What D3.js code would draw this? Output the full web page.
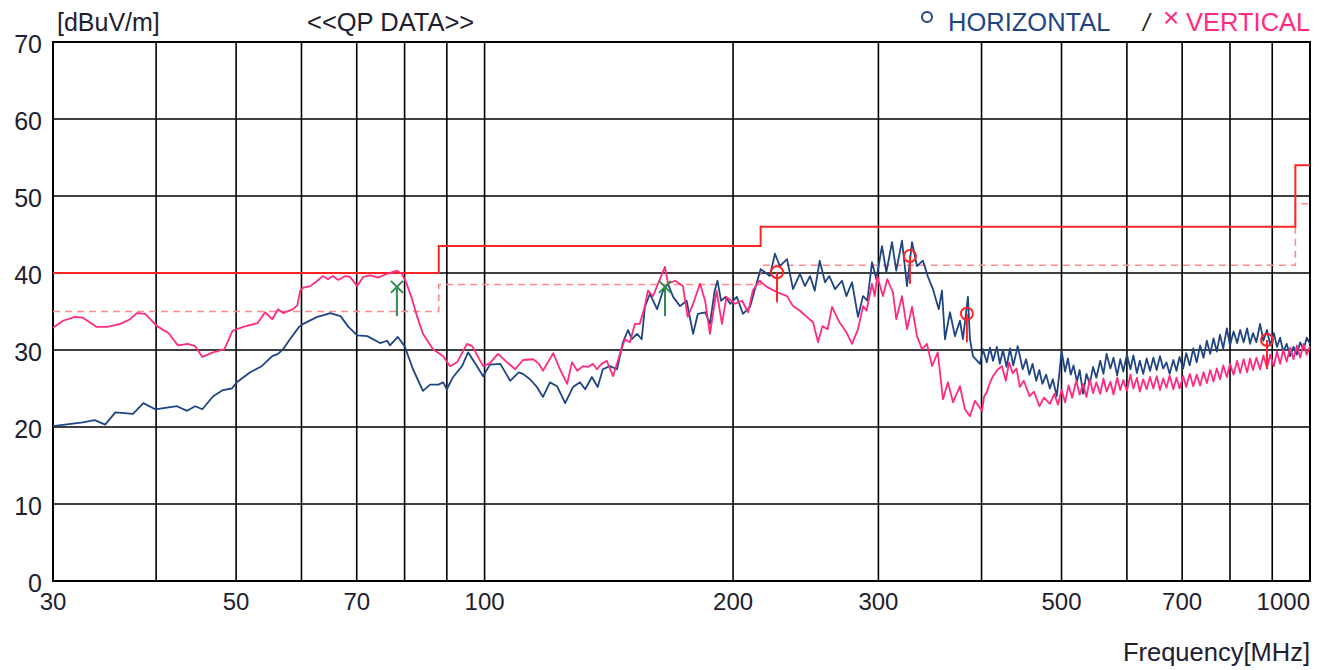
<!DOCTYPE html>
<html>
<head>
<meta charset="utf-8">
<script src="https://cdn.jsdelivr.net/npm/d3@7"></script>
<style>
	body { margin: 0; background: #ffffff; }
	text { font-family: 'Liberation Sans', Arial, sans-serif; }
</style>
</head>
<body>
<div id="chart"></div>
<script>
// Axis ticks
const freqLabels = [30, 50, 70, 100, 200, 300, 500, 700, 1000];
const freqGrid = [30, 40, 50, 60, 70, 80, 90, 100, 200, 300, 400, 500, 600, 700, 800, 900, 1000];
const levelTicks = [0, 10, 20, 30, 40, 50, 60, 70];

// Limit lines (step after each frequency)
const limitFreq = [30, 88, 216, 960, 1000];
const limitLevel = [40, 43.5, 46, 54, 54];
const marginLevel = [35, 38.5, 41, 49, 49];

// HORIZONTAL trace [MHz, dBuV/m]
const horizontal = [
	[30, 20.1], [32.6, 20.6], [33.7, 20.9], [34.7, 20.3], [35.7, 21.9], [37.5, 21.7], [38.6, 23.1], [39.9, 22.3],
	[42.4, 22.7], [43.6, 22.1], [44.6, 22.7], [45.5, 22.3], [46.9, 24.0], [48.2, 24.8], [49.4, 25.0], [50.1, 25.8],
	[52.0, 27.1], [53.7, 27.9], [55.3, 29.2], [56.2, 29.5], [57.0, 30.1], [58.1, 31.4], [59.6, 33.0], [60.3, 33.4],
	[62.7, 34.3], [63.7, 34.5], [65.0, 34.8], [66.9, 34.4], [68.4, 33.0], [70.1, 31.9], [72.1, 31.8], [74.7, 30.9],
	[76.2, 31.2], [76.8, 30.6], [78.5, 31.7], [80.0, 30.5], [81.9, 27.5], [84.2, 24.7], [85.9, 25.5], [87.9, 25.5],
	[89.1, 25.8], [90.0, 24.9], [91.6, 26.5], [93.9, 27.9], [95.5, 29.7], [97.9, 27.9], [99.6, 26.6], [101.5, 28.1],
	[104.5, 28.2], [107.4, 26.0], [110.0, 27.1], [111.3, 26.9], [113.5, 26.2], [115.7, 25.2], [117.7, 23.9], [120.0, 25.8],
	[122.4, 25.3], [125.2, 23.1], [128.0, 25.2], [130.5, 25.8], [132.4, 24.9], [134.9, 26.5], [137.1, 25.2], [139.1, 27.5],
	[141.8, 27.9], [144.7, 27.5], [147.1, 31.0], [149.2, 32.6], [150.8, 31.4], [153.0, 32.1], [155.0, 31.4], [156.4, 35.6],
	[158.6, 37.3], [161.8, 35.3], [164.5, 37.7], [166.8, 38.6], [169.2, 36.9], [172.5, 35.7], [175.7, 36.4], [178.9, 32.1],
	[181.3, 34.7], [185.0, 34.9], [187.5, 33.4], [190.0, 37.7], [191.5, 39.0], [193.4, 36.4], [195.9, 36.9], [198.4, 36.0],
	[202.1, 36.9], [205.6, 34.7], [209.7, 35.6], [213.5, 38.6], [216.0, 40.5], [221.6, 39.6], [224.8, 42.5], [227.9, 40.9],
	[232.5, 41.8], [236.4, 37.9], [241.0, 39.9], [244.4, 38.3], [247.9, 39.6], [251.2, 37.7], [254.7, 41.6], [258.5, 38.8],
	[261.6, 39.6], [265.8, 37.9], [271.0, 39.0], [274.4, 37.0], [278.7, 38.8], [283.4, 34.3], [287.4, 37.0], [290.9, 36.4],
	[294.7, 41.4], [298.3, 39.2], [303.0, 43.5], [306.7, 40.1], [311.6, 44.0], [315.3, 40.3], [320.4, 44.2], [324.9, 38.3],
	[329.5, 44.0], [334.1, 40.9], [339.7, 41.6], [344.5, 39.5], [349.3, 37.9], [355.0, 35.3], [358.2, 37.7], [361.2, 31.4],
	[366.3, 34.9], [371.4, 31.8], [376.6, 33.8], [379.8, 31.4], [385.1, 36.9], [387.3, 31.4], [390.5, 29.2], [398.2, 28.2],
	[401.5, 30.1], [405.9, 28.4], [409.5, 30.3], [413, 28.6], [417.5, 30.4], [421, 28.2], [424.6, 30.0], [429, 27.8],
	[433, 30.2], [437, 28.0], [442.5, 30.5], [448.7, 27.5], [453, 28.8], [457, 26.8], [461.2, 28.2], [466, 26.0],
	[470, 27.4], [474, 25.6], [479, 26.8], [484, 25.0], [488, 26.2], [493.4, 24.0], [497, 27.0], [500, 29.9],
	[505, 27.2], [509, 28.9], [513, 26.8], [517, 28.0], [522, 25.9], [526, 27.4], [531, 24.3], [536, 26.9],
	[541, 25.6], [546, 27.8], [551, 26.4], [557, 28.6], [562, 26.9], [567, 29.5], [573, 27.6], [578, 29.0],
	[584, 26.7], [589, 28.8], [594, 27.2], [600, 29.4], [606, 27.5], [611, 29.3], [617, 27.0], [622, 28.6],
	[628, 26.9], [634, 28.9], [640, 27.3], [646, 29.0], [652, 27.4], [658, 29.2], [664, 27.6], [670, 28.4],
	[676, 26.9], [683, 28.7], [689, 27.3], [695, 29.1], [702, 27.6], [708, 29.6], [715, 28.0], [722, 30.2],
	[729, 28.4], [736, 30.6], [743, 29.0], [750, 31.2], [757, 29.5], [764, 31.5], [771, 29.8], [778, 32.0],
	[785, 30.2], [793, 32.8], [800, 30.6], [808, 32.4], [816, 30.9], [823, 32.6], [831, 31.0], [839, 32.8],
	[846, 30.8], [853, 32.2], [861, 31.0], [870, 33.4], [878, 31.2], [887, 32.6], [895, 30.6], [904, 32.2],
	[912, 30.4], [920, 31.6], [928, 29.8], [937, 30.8], [946, 29.2], [955, 30.4], [964, 29.4], [973, 31.0],
	[982, 30.0], [991, 31.6], [1000, 30.8]
];

// VERTICAL trace [MHz, dBuV/m]
const vertical = [
	[30, 32.9], [30.85, 33.8], [31.9, 34.3], [32.6, 34.2], [33.9, 33.0], [34.9, 33.0], [36.2, 33.4], [37.2, 34.0],
	[37.9, 34.8], [38.8, 34.7], [40.1, 33.1], [41.4, 32.2], [42.5, 30.6], [43.7, 30.8], [44.6, 30.5], [45.5, 29.1],
	[46.9, 29.7], [48.4, 30.1], [49.5, 32.5], [51.0, 33.0], [53.1, 33.5], [54.2, 34.9], [55.3, 34.0], [56.2, 35.3],
	[57.0, 34.8], [58.6, 35.3], [59.3, 35.8], [59.8, 37.7], [60.3, 38.1], [61.5, 38.3], [62.7, 39.0], [63.7, 39.6],
	[64.6, 39.2], [65.5, 39.6], [66.5, 39.1], [67.8, 39.6], [68.7, 39.5], [70.1, 38.3], [71.3, 39.5], [72.7, 39.7],
	[74.3, 39.4], [76.2, 39.9], [78.3, 40.3], [79.4, 39.9], [80.4, 38.7], [81.7, 36.6], [82.8, 34.4], [84.2, 32.1],
	[86.6, 30.1], [89.1, 29.2], [90.8, 27.9], [92.6, 28.4], [95.2, 30.8], [96.6, 30.5], [99.6, 27.9], [101.5, 28.3],
	[103.8, 29.5], [106.5, 28.4], [108.9, 27.5], [111.3, 28.7], [114.5, 28.8], [116.4, 28.2], [117.7, 27.3], [121.1, 29.6],
	[123.4, 27.5], [125.9, 25.6], [127.6, 28.4], [129.5, 27.3], [131.6, 27.9], [133.5, 27.8], [135.3, 28.2], [136.8, 27.5],
	[138.6, 28.2], [140.6, 28.6], [143.1, 26.6], [145.9, 29.5], [147.9, 31.4], [150.0, 31.0], [152.1, 33.4], [154.2, 33.4],
	[156.4, 35.7], [157.7, 37.7], [160.0, 37.0], [162.2, 38.6], [165.4, 40.8], [166.8, 38.6], [170.1, 39.0], [173.9, 38.3],
	[176.2, 34.3], [178.9, 36.0], [182.4, 38.6], [185.0, 36.4], [187.5, 32.1], [191.0, 37.7], [193.9, 33.4], [196.4, 36.9],
	[201.1, 36.0], [205.1, 36.4], [208.6, 34.9], [211.3, 37.7], [215.1, 39.0], [219.8, 38.2], [226.1, 37.5], [232.5, 37.0],
	[236.4, 35.7], [241.0, 35.1], [245.6, 34.3], [250.0, 33.6], [253.5, 31.0], [256.6, 33.1], [260.4, 32.7], [263.6, 35.6],
	[269.1, 33.6], [274.4, 32.3], [278.7, 30.8], [283.4, 32.7], [287.4, 35.7], [290.2, 35.1], [294.7, 38.6], [296.9, 37.0],
	[299.0, 39.6], [303.8, 37.0], [307.5, 39.2], [312.4, 37.5], [315.3, 34.0], [320.4, 37.0], [324.9, 32.7], [329.5, 35.6],
	[334.1, 31.8], [338.8, 30.1], [343.5, 30.8], [348.4, 27.9], [354.0, 29.7], [359.2, 23.6], [364.2, 25.8], [369.4, 23.2],
	[376.6, 25.3], [381.9, 22.3], [387.3, 21.4], [392.7, 23.4], [400.4, 22.1], [403, 24.0], [405.9, 24.5], [409, 25.6],
	[412.9, 26.6], [418, 27.4], [423.4, 27.9], [428, 26.0], [432, 28.4], [436.4, 27.0], [441, 27.6], [445, 25.2],
	[450, 26.0], [457.4, 24.0], [463, 24.6], [470.1, 22.7], [476, 23.8], [484.1, 23.0], [490, 24.3], [495, 22.9],
	[500, 24.8], [505, 23.2], [510, 25.4], [515, 23.8], [521, 26.0], [526, 24.2], [531, 25.6], [536, 23.9],
	[541, 26.2], [546, 24.4], [551, 25.8], [557, 24.3], [562, 26.3], [567, 24.6], [573, 25.9], [578, 24.2],
	[584, 26.4], [589, 24.8], [594, 26.1], [600, 24.7], [606, 26.8], [611, 25.0], [617, 26.4], [622, 24.6],
	[628, 26.2], [634, 24.9], [640, 26.5], [646, 25.0], [652, 26.6], [658, 24.8], [664, 26.3], [670, 25.1],
	[676, 26.7], [683, 24.9], [689, 26.4], [695, 25.0], [702, 26.6], [708, 25.2], [715, 26.9], [722, 25.3],
	[729, 26.8], [736, 25.4], [743, 27.1], [750, 25.7], [757, 27.4], [764, 25.9], [771, 27.6], [778, 26.2],
	[785, 28.0], [793, 26.5], [800, 28.2], [808, 26.8], [816, 28.6], [823, 27.0], [831, 28.8], [839, 27.1],
	[846, 28.9], [853, 27.4], [861, 29.0], [870, 27.5], [878, 29.3], [887, 27.7], [895, 29.4], [904, 27.9],
	[912, 29.8], [920, 28.2], [928, 30.0], [937, 28.5], [946, 30.3], [955, 28.8], [964, 30.6], [973, 29.0],
	[982, 30.8], [991, 29.4], [1000, 30.5]
];

// QP markers [MHz, QP level, bar bottom]
const qpHorizontal = [[226.1, 40.1, 36.2], [327.6, 42.2, 38.6], [384.0, 34.7, 31.0], [887, 31.3, 27.5]];
const qpVertical = [[78.3, 38.2, 34.4], [165.4, 38.2, 34.4]];

const W = 1328, H = 670;
const margin = { left: 53, right: 18, top: 42, bottom: 89 };

const blue = '#1f4584', pink = '#ff2b80', red = '#ff2424', green = '#2e8b4f';
const textColor = '#1e2030';

const svg = d3.select('#chart').append('svg')
	.attr('width', W)
	.attr('height', H)
	.style('background', '#ffffff');

const x = d3.scaleLog().domain([30, 1000]).range([margin.left, W - margin.right]);
const y = d3.scaleLinear().domain([0, 70]).range([H - margin.bottom, margin.top]);

// Grid
svg.append('g').selectAll('line')
	.data(freqGrid)
	.enter().append('line')
	.attr('x1', d => x(d)).attr('x2', d => x(d))
	.attr('y1', y(0)).attr('y2', y(70))
	.style('stroke', '#000').style('stroke-width', 1.6);

svg.append('g').selectAll('line')
	.data(levelTicks)
	.enter().append('line')
	.attr('x1', x(30)).attr('x2', x(1000))
	.attr('y1', d => y(d)).attr('y2', d => y(d))
	.style('stroke', '#000').style('stroke-width', 1.6);

svg.append('rect')
	.attr('x', x(30)).attr('y', y(70))
	.attr('width', x(1000) - x(30)).attr('height', y(0) - y(70))
	.style('fill', 'none').style('stroke', '#000').style('stroke-width', 2);

// Tick labels
svg.append('g').selectAll('text')
	.data(levelTicks)
	.enter().append('text')
	.attr('x', 42)
	.attr('y', d => y(d) + 11)
	.attr('text-anchor', 'end')
	.style('font-size', '25px')
	.style('fill', textColor)
	.text(d => d);

svg.append('g').selectAll('text')
	.data(freqLabels)
	.enter().append('text')
	.attr('x', d => x(d))
	.attr('y', y(0) + 29)
	.attr('text-anchor', d => d === 1000 ? 'end' : 'middle')
	.style('font-size', '24px')
	.style('fill', textColor)
	.text(d => d);

svg.append('text')
	.attr('x', x(1000)).attr('y', 661)
	.attr('text-anchor', 'end')
	.style('font-size', '25.5px').style('fill', textColor)
	.text('Frequency[MHz]');

svg.append('text')
	.attr('x', 57).attr('y', 31)
	.style('font-size', '25px').style('fill', textColor)
	.text('[dBuV/m]');

svg.append('text')
	.attr('x', 307).attr('y', 31)
	.style('font-size', '25.5px').style('fill', textColor)
	.text('<<QP DATA>>');

// Legend
svg.append('circle')
	.attr('cx', 927).attr('cy', 17).attr('r', 5)
	.style('fill', 'none').style('stroke', blue).style('stroke-width', 2);
svg.append('text')
	.attr('x', 948).attr('y', 31)
	.style('font-size', '25.5px').style('fill', blue)
	.text('HORIZONTAL');
svg.append('text')
	.attr('x', 1143).attr('y', 31)
	.style('font-size', '24px').style('font-style', 'italic').style('fill', '#2a2410')
	.text('/');
svg.append('text')
	.attr('x', 1163).attr('y', 27)
	.style('font-size', '28px').style('fill', pink)
	.text('\u00d7');
svg.append('text')
	.attr('x', 1186).attr('y', 31)
	.style('font-size', '25.5px').style('fill', pink)
	.text('VERTICAL');

// Limit lines
const step = d3.line().curve(d3.curveStepAfter).x(d => x(d[0])).y(d => y(d[1]));

svg.append('path')
	.attr('d', step(limitFreq.map((f, i) => [f, marginLevel[i]])))
	.style('fill', 'none').style('stroke', '#ff8a8a')
	.style('stroke-width', 1.6).style('stroke-dasharray', '7,5');

svg.append('path')
	.attr('d', step(limitFreq.map((f, i) => [f, limitLevel[i]])))
	.style('fill', 'none').style('stroke', red).style('stroke-width', 2);

// Traces
const line = d3.line().x(d => x(d[0])).y(d => y(d[1]));

svg.append('path')
	.attr('d', line(horizontal))
	.style('fill', 'none').style('stroke', blue).style('stroke-width', 1.8)
	.style('stroke-linejoin', 'round');

svg.append('path')
	.attr('d', line(vertical))
	.style('fill', 'none').style('stroke', pink).style('stroke-width', 1.8)
	.style('stroke-linejoin', 'round');

// QP markers
qpHorizontal.forEach(d => {
	svg.append('line')
		.attr('x1', x(d[0])).attr('x2', x(d[0]))
		.attr('y1', y(d[1])).attr('y2', y(d[2]))
		.style('stroke', red).style('stroke-width', 2);
	svg.append('circle')
		.attr('cx', x(d[0])).attr('cy', y(d[1])).attr('r', 6)
		.style('fill', 'none').style('stroke', red).style('stroke-width', 2);
});

qpVertical.forEach(d => {
	const cx = x(d[0]), cy = y(d[1]), s = 6;
	svg.append('line')
		.attr('x1', cx).attr('x2', cx)
		.attr('y1', cy).attr('y2', y(d[2]))
		.style('stroke', green).style('stroke-width', 2);
	svg.append('path')
		.attr('d', `M${cx - s},${cy - s}L${cx + s},${cy + s}M${cx + s},${cy - s}L${cx - s},${cy + s}`)
		.style('stroke', green).style('stroke-width', 2);
});
</script>
</body>
</html>
